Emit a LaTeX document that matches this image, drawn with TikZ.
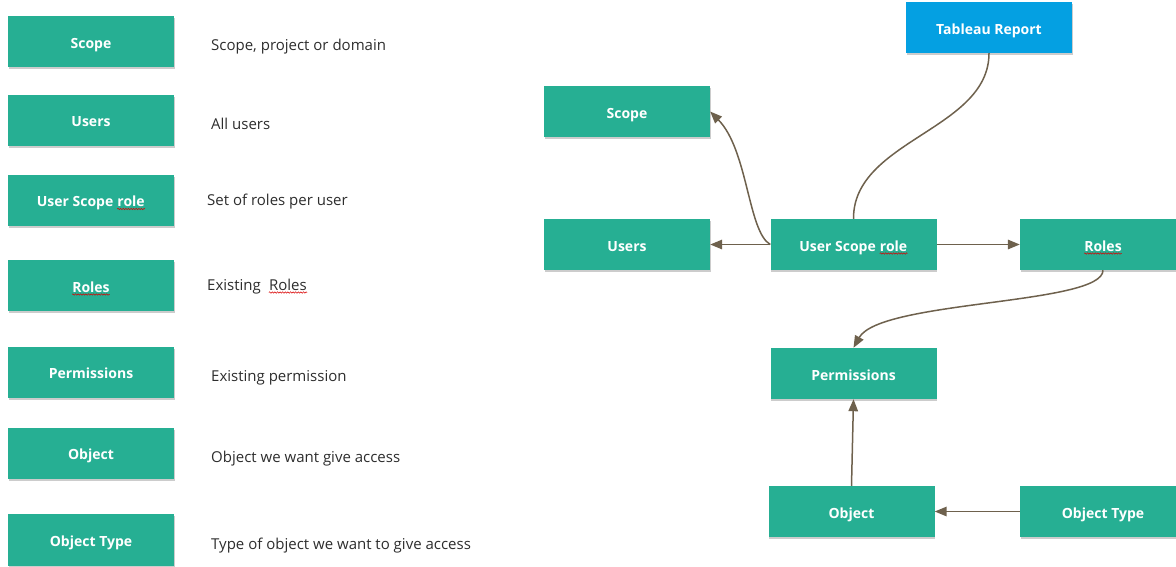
\documentclass[tikz,border=0pt]{standalone}
\usepackage{fontspec}
\setmainfont{Open Sans}
\usetikzlibrary{arrows.meta,shadows,decorations.pathmorphing}
\definecolor{teal1}{RGB}{38,175,147}
\definecolor{blue1}{RGB}{4,160,226}
\definecolor{arr}{RGB}{110,97,77}
\definecolor{txt}{RGB}{45,45,45}
\newcommand{\sqg}[2]{\tikz[baseline=(sq.base)]{\node[rectangle, inner sep=0pt, minimum width=0pt, minimum height=0pt,
   text height=, text depth=, fill=none, draw=none, text=#1] (sq) {#2};
  \draw[red!85!black, line width=0.5pt, decorate, decoration={snake, amplitude=0.7pt, segment length=2.6pt}]
   ([yshift=-2.5pt]sq.base west) -- ([yshift=-2.5pt]sq.base east);}}
\tikzset{
  tbox/.style={rectangle, fill=teal1, minimum width=166pt, minimum height=51pt, inner sep=0pt,
    text=white, font=\bfseries\fontsize{14}{16}\selectfont, text height=13pt, text depth=0pt,
    drop shadow={shadow xshift=0.8pt, shadow yshift=-2pt, fill=black, opacity=0.2}},
  bbox/.style={tbox, fill=blue1},
  desc/.style={anchor=west, inner sep=0pt, text=txt, font=\fontsize{15}{18}\selectfont,
    text height=12pt, text depth=0pt},
  conn/.style={draw=arr, line width=1.5pt, -{Triangle[length=12pt,width=9.5pt]}},
  plain/.style={draw=arr, line width=1.5pt}
}
\begin{document}
\begin{tikzpicture}[x=1pt,y=-1pt]
\useasboundingbox (0,0) rectangle (1176,566);
% left legend
\node[tbox] (lscope) at (91,41.5) {Scope};
\node[tbox] (lusers) at (91,120) {Users};
\node[tbox] (lusr) at (91,200) {User Scope \sqg{white}{role}};
\node[tbox] (lroles) at (91,285.5) {\sqg{white}{Roles}};
\node[tbox] (lperm) at (91,372) {Permissions};
\node[tbox] (lobj) at (91,453) {Object};
\node[tbox, minimum height=52pt] (lobjt) at (91,540) {Object Type};
\node[desc] (d1) at (211,44) {Scope, project or domain};
\node[desc] (d2) at (211,123) {All users};
\node[desc] (d3) at (207,199) {Set of roles per user};
\node[desc] (d4) at (207,284) {Existing\ \ \sqg{txt}{Roles}};
\node[desc] (d5) at (211,375) {Existing permission};
\node[desc] (d6) at (211,456) {Object we want give access};
\node[desc] (d7) at (211,543) {Type of object we want to give access};
% right diagram
\node[bbox] (tab) at (989,27.5) {Tableau Report};
\node[tbox] (scope) at (627,111.5) {Scope};
\node[tbox] (users) at (627,244.5) {Users};
\node[tbox] (usr) at (853.5,244.5) {User Scope \sqg{white}{role}};
\node[tbox] (roles) at (1103,244.5) {\sqg{white}{Roles}};
\node[tbox] (perm) at (853.5,373.5) {Permissions};
\node[tbox] (obj) at (851.5,511.5) {Object};
\node[tbox] (objt) at (1103,511.5) {Object Type};
% connectors
\draw[conn] (usr.west) -- (users.east);
\draw[conn] (usr.east) -- (roles.west);
\draw[conn] (usr.west) .. controls (748,232) and (748,150) .. (scope.east);
\draw[plain] (tab.south) .. controls (989,130) and (853,140) .. (usr.north);
\draw[conn] (roles.south) .. controls (1103,305) and (880,300) .. (perm.north);
\draw[conn] (obj.north) -- (perm.south);
\draw[conn] (objt.west) -- (obj.east);
\end{tikzpicture}
\end{document}
